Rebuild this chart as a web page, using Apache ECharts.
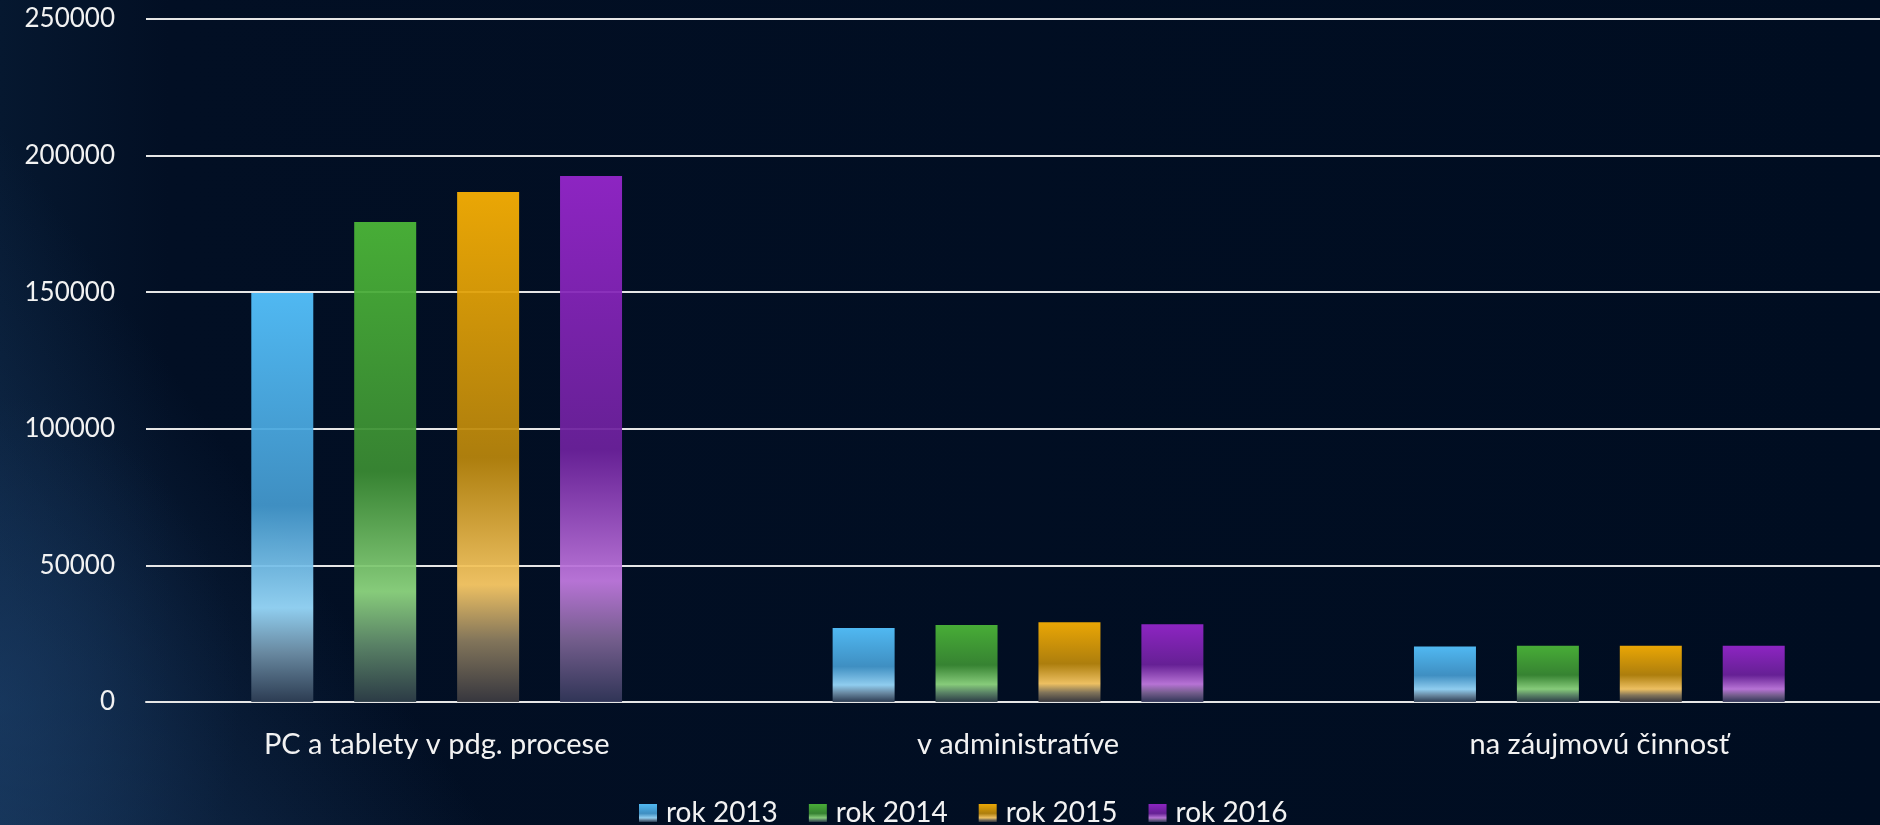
<!DOCTYPE html>
<html>
<head>
<meta charset="utf-8">
<script src="https://cdn.jsdelivr.net/npm/echarts@6/dist/echarts.min.js"></script>
<style>
  html, body {
    margin: 0;
    padding: 0;
  }
  body {
    width: 1880px;
    height: 825px;
    overflow: hidden;
    background:
      linear-gradient(55deg, rgba(34, 74, 120, 0.5) 0%, rgba(34, 74, 120, 0.3) 9%, rgba(34, 74, 120, 0) 20%),
      radial-gradient(ellipse 300px 380px at 0px 700px, rgba(24, 56, 96, 0.5), rgba(24, 56, 96, 0) 80%),
      linear-gradient(90deg, #061830 0%, #020f24 9%, #000d21 100%);
  }
  #chart {
    width: 1900px;
    height: 825px;
  }
</style>
</head>
<body>
<div id="chart"></div>
<script>
// kategórie a hodnoty odčítané z grafu
const categories = ["PC a tablety v pdg. procese", "v administratíve", "na záujmovú činnosť"];
const years = ["rok 2013", "rok 2014", "rok 2015", "rok 2016"];
const values2013 = [149700, 27100, 20300];
const values2014 = [175700, 28200, 20600];
const values2015 = [186700, 29200, 20600];
const values2016 = [192500, 28500, 20600];
const yTicks = { min: 0, max: 250000, interval: 50000 };

// farby prechodu: vrch, tmavý stred, svetlý pás, spodok
const palettes = [
  ["#55c4ff", "#4398cc", "#99dafc", "#6f90a8", "#2f3f55"],
  ["#4cb838", "#3a8b33", "#8fd880", "#5f8a6a", "#2e3e48"],
  ["#f9b103", "#b8860c", "#fccc66", "#8a7c5e", "#3a3a40"],
  ["#9627cc", "#6c229c", "#c27ae0", "#7c6494", "#33385a"],
];

function gradient(p) {
  return new echarts.graphic.LinearGradient(0, 0, 0, 1, [
    { offset: 0, color: p[0] },
    { offset: 0.52, color: p[1] },
    { offset: 0.77, color: p[2] },
    { offset: 0.88, color: p[3] },
    { offset: 1, color: p[4] },
  ]);
}

const seriesValues = [values2013, values2014, values2015, values2016];
const font = "Lato";

const chart = echarts.init(document.getElementById("chart"));
chart.setOption({
  backgroundColor: "transparent",
  animation: false,
  grid: {
    left: 146,
    top: 19,
    width: 1744,
    bottom: 123,
  },
  legend: {
    left: 634,
    top: 794,
    itemWidth: 18,
    itemHeight: 18,
    itemGap: 31,
    icon: "rect",
    textStyle: {
      color: "#f2f2f2",
      fontSize: 28,
      fontFamily: font,
      padding: [0, 0, 0, 4],
    },
    data: years,
  },
  xAxis: {
    type: "category",
    data: categories,
    axisTick: { show: false },
    axisLine: { lineStyle: { color: "#e6e6e6", width: 2 } },
    axisLabel: {
      color: "#f2f2f2",
      fontSize: 29,
      fontFamily: font,
      margin: 28,
    },
  },
  yAxis: {
    type: "value",
    min: yTicks.min,
    max: yTicks.max,
    interval: yTicks.interval,
    axisLine: { show: false },
    axisTick: { show: false },
    splitLine: { lineStyle: { color: "#e6e6e6", width: 2 } },
    axisLabel: {
      color: "#f2f2f2",
      fontSize: 26,
      fontFamily: font,
      margin: 31,
      formatter: (v) => String(v),
    },
  },
  series: seriesValues.map((vals, i) => ({
    name: years[i],
    type: "bar",
    data: vals,
    barWidth: 62,
    barGap: "66%",
    itemStyle: {
      color: gradient(palettes[i]),
      opacity: 0.94,
    },
  })),
});
</script>
</body>
</html>
